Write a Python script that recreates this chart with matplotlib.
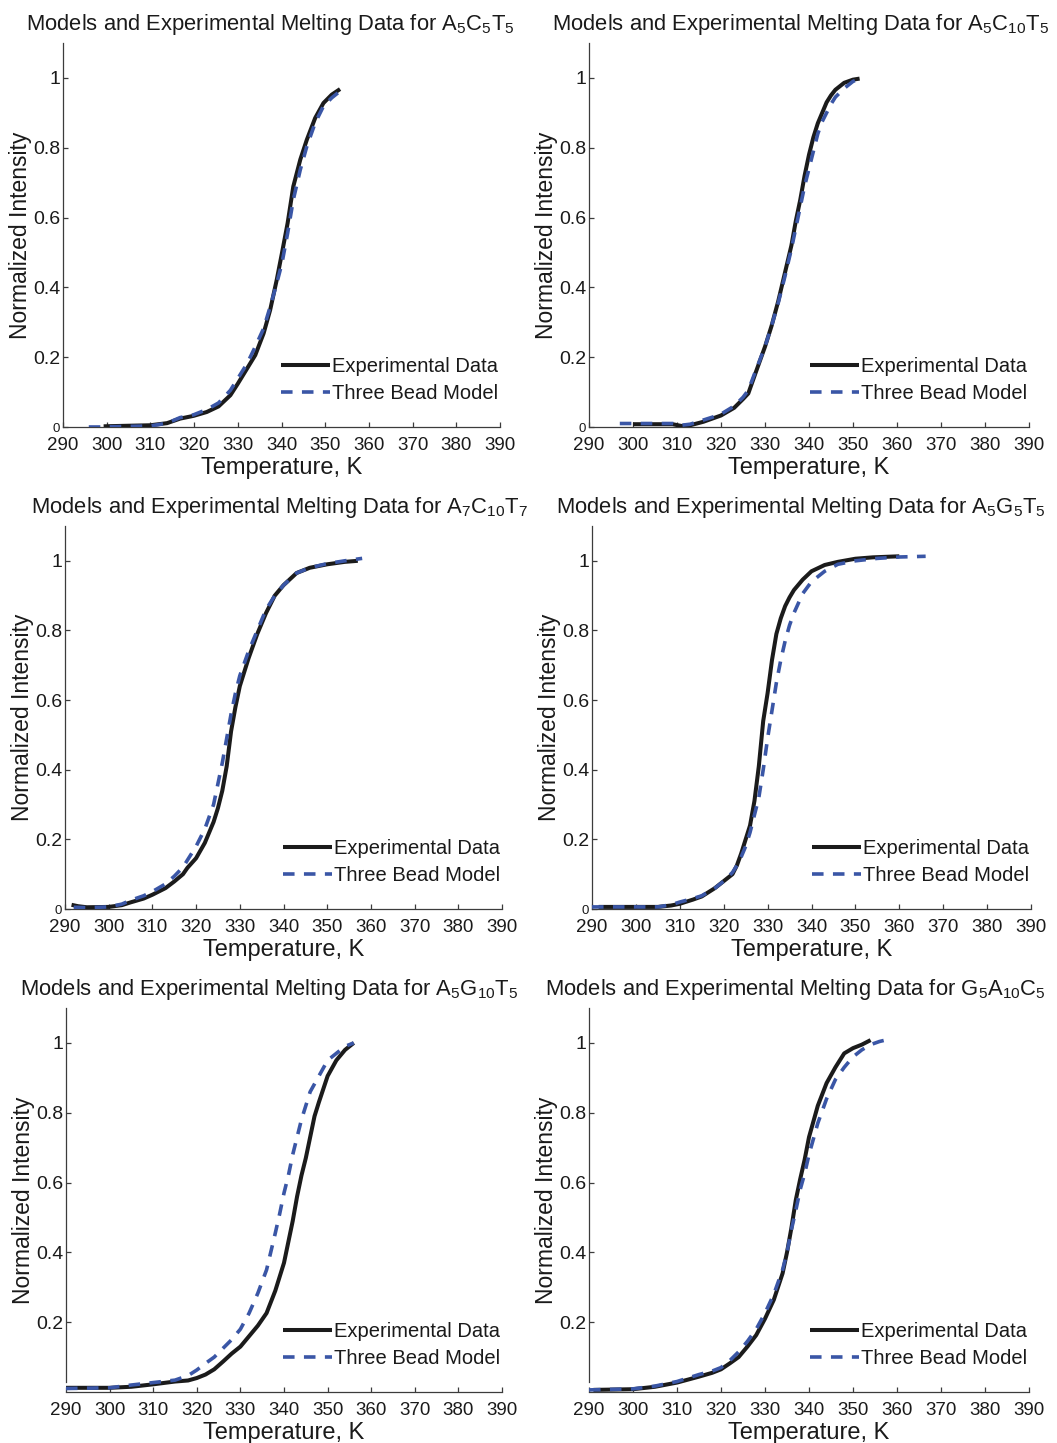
import matplotlib
matplotlib.use("Agg")
import matplotlib.pyplot as plt

plt.rcParams['font.family'] = ['Liberation Sans', 'DejaVu Sans']
plt.rcParams['mathtext.fontset'] = 'custom'
plt.rcParams['mathtext.rm'] = 'Liberation Sans'

# ---- melting curves: temperature (K) and normalized intensity ----
# A5C5T5
t_a5c5t5_exp = [299.3, 310, 313.8, 316.8, 319.9, 322.9, 325.6, 328.3, 330, 332.1, 334, 335.9,
                337.4, 338.9, 340.1, 341.4, 342.7, 344.3, 345.8, 347.7, 349.6, 351.5, 353.4]
y_a5c5t5_exp = [0.002, 0.005, 0.011, 0.024, 0.032, 0.043, 0.059, 0.091, 0.124, 0.167, 0.206, 0.268,
                0.335, 0.421, 0.498, 0.584, 0.689, 0.766, 0.823, 0.885, 0.928, 0.952, 0.968]
t_a5c5t5_mod = [295.9, 298.5, 310, 313.8, 316.8, 319.9, 322.9, 325.6, 328.3, 330, 332.1, 334, 335.9,
                337.4, 338.9, 340.1, 341.4, 342.7, 344.3, 345.8, 347.7, 349.6, 351.5, 353.4]
y_a5c5t5_mod = [0.0, 0.0, 0.003, 0.011, 0.027, 0.035, 0.05, 0.069, 0.105, 0.139, 0.181, 0.23, 0.282,
                0.344, 0.411, 0.469, 0.555, 0.651, 0.737, 0.804, 0.871, 0.919, 0.943, 0.962]

# A5C10T5
t_a5c10t5_exp = [300, 305, 309, 311, 313, 316, 318, 320, 323, 325, 326.2, 328, 330, 331.5, 333, 334.5,
                 336, 337, 338, 339, 340, 341, 342, 343, 344, 345, 346, 348, 350, 351.5]
y_a5c10t5_exp = [0.008, 0.008, 0.008, 0.003, 0.005, 0.015, 0.024, 0.033, 0.055, 0.08, 0.096, 0.16, 0.23,
                 0.29, 0.36, 0.44, 0.52, 0.59, 0.65, 0.72, 0.78, 0.83, 0.87, 0.90, 0.93, 0.95, 0.966,
                 0.986, 0.995, 0.998]
t_a5c10t5_mod = [297, 300, 305, 309, 311, 313, 316, 318, 320, 323, 325, 326.2, 328, 330, 331.5, 333,
                 334.5, 336, 337, 338, 339, 340, 341, 342, 343, 344, 345, 346, 348, 350, 352]
y_a5c10t5_mod = [0.01, 0.01, 0.01, 0.01, 0.005, 0.008, 0.02, 0.028, 0.037, 0.06, 0.085, 0.105, 0.165,
                 0.23, 0.29, 0.355, 0.43, 0.51, 0.57, 0.63, 0.69, 0.74, 0.79, 0.84, 0.875, 0.90, 0.925,
                 0.945, 0.97, 0.99, 1.0]

# A7C10T7
t_a7c10t7_exp = [291.5, 293, 295, 300, 303, 305, 308, 310, 313, 315, 317, 318, 320, 322, 324, 325, 326,
                 327, 328, 329, 330, 331, 332, 334, 336, 338, 340, 343, 346, 350, 354, 357]
y_a7c10t7_exp = [0.012, 0.008, 0.005, 0.006, 0.011, 0.019, 0.03, 0.041, 0.06, 0.079, 0.10, 0.118, 0.146,
                 0.19, 0.25, 0.29, 0.34, 0.41, 0.51, 0.58, 0.64, 0.68, 0.72, 0.79, 0.85, 0.90, 0.93,
                 0.965, 0.98, 0.99, 0.997, 1.0]
t_a7c10t7_mod = [292, 295, 300, 303, 305, 308, 310, 313, 315, 317, 318, 320, 322, 324, 325, 326, 327,
                 328, 329, 330, 331, 332, 334, 336, 338, 340, 343, 346, 350, 354, 358]
y_a7c10t7_mod = [0.005, 0.004, 0.006, 0.014, 0.025, 0.038, 0.05, 0.072, 0.094, 0.12, 0.14, 0.18, 0.23,
                 0.30, 0.36, 0.42, 0.49, 0.56, 0.62, 0.67, 0.705, 0.74, 0.80, 0.86, 0.90, 0.93, 0.965,
                 0.98, 0.992, 1.0, 1.007]

# A5G5T5
t_a5g5t5_exp = [291.5, 295, 300, 305, 308, 310, 313, 315, 318, 320, 322, 323, 324, 325, 326, 327, 328,
                329, 330, 331, 332, 333, 334, 335, 336, 338, 340, 343, 346, 350, 354, 360]
y_a5g5t5_exp = [0.006, 0.006, 0.006, 0.006, 0.01, 0.015, 0.027, 0.036, 0.06, 0.08, 0.10, 0.125, 0.16,
                0.20, 0.24, 0.31, 0.41, 0.54, 0.62, 0.715, 0.79, 0.835, 0.87, 0.895, 0.916, 0.946, 0.97,
                0.988, 0.997, 1.006, 1.01, 1.013]
t_a5g5t5_mod = [290, 295, 300, 305, 308, 310, 313, 315, 318, 320, 322, 323, 324, 325, 326, 327, 328, 329,
                330, 331, 332, 333, 334, 335, 336, 338, 340, 343, 346, 350, 355, 360, 366]
y_a5g5t5_mod = [0.006, 0.006, 0.006, 0.006, 0.012, 0.02, 0.03, 0.038, 0.06, 0.08, 0.105, 0.125, 0.15,
                0.18, 0.22, 0.27, 0.32, 0.40, 0.49, 0.57, 0.65, 0.715, 0.77, 0.815, 0.85, 0.906, 0.94,
                0.97, 0.99, 1.0, 1.007, 1.011, 1.013]

# A5G10T5
t_a5g10t5_exp = [290, 300, 305, 310, 315, 318, 320, 322, 324, 326, 328, 330, 332, 334, 336, 338, 340,
                 341, 342, 343, 344, 345, 346, 347, 348, 350, 352, 354, 356]
y_a5g10t5_exp = [0.012, 0.012, 0.015, 0.022, 0.03, 0.033, 0.04, 0.05, 0.065, 0.087, 0.11, 0.13, 0.16,
                 0.19, 0.226, 0.29, 0.37, 0.43, 0.49, 0.56, 0.62, 0.67, 0.73, 0.79, 0.83, 0.905, 0.95,
                 0.98, 1.0]
t_a5g10t5_mod = [290, 300, 305, 310, 315, 318, 320, 322, 324, 326, 328, 330, 332, 334, 336, 338, 339,
                 340, 341, 342, 344, 346, 348, 350, 352, 354, 356]
y_a5g10t5_mod = [0.01, 0.012, 0.02, 0.027, 0.034, 0.047, 0.063, 0.082, 0.10, 0.125, 0.15, 0.18, 0.226,
                 0.283, 0.35, 0.455, 0.51, 0.57, 0.62, 0.68, 0.78, 0.86, 0.905, 0.95, 0.97, 0.99, 1.0]

# G5A10C5
t_g5a10c5_exp = [291, 300, 305, 310, 315, 318, 320, 322, 324, 326, 328, 330, 332, 334, 335, 336, 337,
                 338, 339, 340, 342, 344, 346, 348, 350, 352, 354]
y_g5a10c5_exp = [0.006, 0.008, 0.015, 0.027, 0.044, 0.055, 0.065, 0.082, 0.10, 0.13, 0.163, 0.21, 0.264,
                 0.34, 0.40, 0.47, 0.55, 0.61, 0.665, 0.73, 0.82, 0.885, 0.93, 0.97, 0.985, 0.995, 1.008]
t_g5a10c5_mod = [290, 300, 305, 310, 315, 318, 320, 322, 324, 326, 328, 330, 332, 334, 335, 336, 337,
                 338, 339, 340, 342, 344, 346, 348, 350, 352, 354, 356, 358]
y_g5a10c5_mod = [0.006, 0.009, 0.017, 0.03, 0.05, 0.06, 0.07, 0.09, 0.115, 0.145, 0.18, 0.226, 0.28,
                 0.35, 0.40, 0.465, 0.52, 0.58, 0.625, 0.68, 0.77, 0.84, 0.895, 0.93, 0.96, 0.98, 0.995,
                 1.004, 1.01]

sequences = [r"$\mathregular{A_5C_5T_5}$", r"$\mathregular{A_5C_{10}T_5}$",
             r"$\mathregular{A_7C_{10}T_7}$", r"$\mathregular{A_5G_5T_5}$",
             r"$\mathregular{A_5G_{10}T_5}$", r"$\mathregular{G_5A_{10}C_5}$"]
experimental = [(t_a5c5t5_exp, y_a5c5t5_exp), (t_a5c10t5_exp, y_a5c10t5_exp),
                (t_a7c10t7_exp, y_a7c10t7_exp), (t_a5g5t5_exp, y_a5g5t5_exp),
                (t_a5g10t5_exp, y_a5g10t5_exp), (t_g5a10c5_exp, y_g5a10c5_exp)]
model = [(t_a5c5t5_mod, y_a5c5t5_mod), (t_a5c10t5_mod, y_a5c10t5_mod),
         (t_a7c10t7_mod, y_a7c10t7_mod), (t_a5g5t5_mod, y_a5g5t5_mod),
         (t_a5g10t5_mod, y_a5g10t5_mod), (t_g5a10c5_mod, y_g5a10c5_mod)]

x_ticks = list(range(290, 391, 10))
y_ticks_top = [0, 0.2, 0.4, 0.6, 0.8, 1]
y_ticks_bottom = [0.2, 0.4, 0.6, 0.8, 1]

W, H = 1057, 1443
fig = plt.figure(figsize=(W / 100, H / 100), dpi=100)

# panel boxes in pixels: left, top, right, bottom
boxes = [(63, 43, 500, 427), (589, 43, 1029, 427),
         (65, 526, 502, 909), (592, 526, 1031, 909),
         (66, 1008, 502, 1392), (589, 1008, 1029, 1392)]
# title centre x and baseline y in pixels
title_pos = [(270, 30), (801, 30), (280, 513), (801, 513), (269, 995), (795, 995)]

BLACK = '#1b1b1b'
BLUE = '#3a56a6'
AXC = '#3c3c3c'

for i, (l, t, r, b) in enumerate(boxes):
    ax = fig.add_axes([l / W, 1 - b / H, (r - l) / W, (b - t) / H])
    te, ye = experimental[i]
    tm, ym = model[i]
    ax.plot(te, ye, color=BLACK, lw=2.9, solid_capstyle='butt', solid_joinstyle='round',
            label='Experimental Data', zorder=3)
    ax.plot(tm, ym, color=BLUE, lw=2.6, dashes=(3.2, 2.6), label='Three Bead Model', zorder=4)

    ax.set_xlim(290, 390)
    ax.set_ylim(0, 1.1)
    ax.set_xticks(x_ticks)
    ax.set_xticklabels([str(v) for v in x_ticks], fontsize=13.5)
    bottom_row = i >= 4
    if bottom_row:
        ax.set_yticks(y_ticks_bottom)
        ax.set_yticklabels(['0.2', '0.4', '0.6', '0.8', '1'], fontsize=14)
        ax.spines['left'].set_bounds(0.03, 1.1)
    else:
        ax.set_yticks(y_ticks_top)
        labels = ax.set_yticklabels(['0', '0.2', '0.4', '0.6', '0.8', '1'], fontsize=14)
        labels[0].set_fontsize(9.5)

    for s in ['top', 'right']:
        ax.spines[s].set_visible(False)
    for s in ['left', 'bottom']:
        ax.spines[s].set_color(AXC)
        ax.spines[s].set_linewidth(0.9)
    ax.tick_params(axis='both', direction='in', length=3.5, width=0.9, color=AXC, labelcolor='#1a1a1a')
    ax.tick_params(axis='x', pad=7.5)
    ax.tick_params(axis='y', pad=2)

    ax.set_xlabel('Temperature, K', fontsize=17, labelpad=2, color='#1a1a1a')
    ax.set_ylabel('Normalized Intensity', fontsize=16.5, labelpad=1, color='#1a1a1a')

    leg = ax.legend(loc='lower right', bbox_to_anchor=(0.995, 0.063), frameon=False, fontsize=14.5,
                    handlelength=2.4, handletextpad=0.1, borderpad=0, borderaxespad=0,
                    labelspacing=0.4)
    for txt in leg.get_texts():
        txt.set_color('#1a1a1a')

    cx, by = title_pos[i]
    fig.text(cx / W, 1 - by / H, 'Models and Experimental Melting Data for ' + sequences[i],
             ha='center', va='baseline', fontsize=15.8, color='#1a1a1a')

fig.savefig('out.png', dpi=100)
